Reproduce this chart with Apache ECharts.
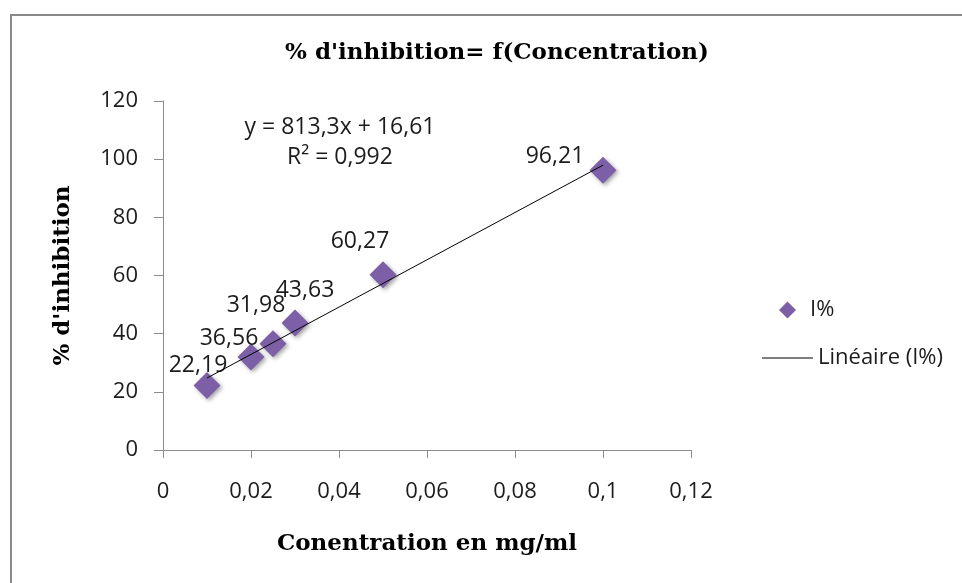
<!DOCTYPE html>
<html><head><meta charset="utf-8">
<script src="https://cdn.jsdelivr.net/npm/echarts@6/dist/echarts.min.js"></script>
<style>html,body{margin:0;padding:0;background:#fff}#c{width:962px;height:583px}</style>
</head><body><div id="c"></div>
<script>
// ---- data ----
const concentrations = [0.01, 0.02, 0.025, 0.03, 0.05, 0.1];
const inhibition = [22.19, 31.98, 36.56, 43.63, 60.27, 96.21];
const xTicks = [0, 0.02, 0.04, 0.06, 0.08, 0.1, 0.12];
const yTicks = [0, 20, 40, 60, 80, 100, 120];
const trendSlope = 813.3;      // as printed on the chart
const trendIntercept = 16.61;  // as printed on the chart
const trendR2 = 0.992;
const titleText = "% d'inhibition= f(Concentration)";
const xName = "Conentration en mg/ml";
const yName = "% d'inhibition";
const seriesName = "I%";
const trendName = "Linéaire (I%)";

// ---- trendline (from the printed equation) over the data range ----
const xMin = Math.min(...concentrations), xMax = Math.max(...concentrations);
const trend = [xMin, xMax].map(x => [x, trendIntercept + trendSlope * x]);
const fr = v => String(v).replace('.', ',');
const eqText = 'y = ' + fr(trendSlope) + 'x + ' + fr(trendIntercept);
const r2Text = 'R² = ' + fr(trendR2);

// ---- style ----
const sans = "'Open Sans', 'Noto Sans', sans-serif";
const serif = "'DejaVu Serif', serif";
const purple = '#7c5fa6';
const axisGrey = '#8c8c8c';
const textCol = '#1c1c1c';
const labelOffsets = [[-9,-20],[5,-52],[-44,-5],[10,-33],[-23,-33],[-48,-14]];

const chart = echarts.init(document.getElementById('c'), null, {renderer:'canvas'});
chart.setOption({
  animation:false,
  backgroundColor:'#fff',
  title:{text:titleText,left:492,textAlign:'center',top:37,
    textStyle:{fontFamily:serif,fontWeight:'bold',fontSize:23,color:'#000'}},
  grid:{left:163,top:101,width:528,height:349},
  legend:[
    {orient:'vertical',left:774,top:294,itemWidth:17,itemHeight:17,
      textStyle:{fontFamily:sans,fontSize:22,color:textCol,padding:[0,0,0,9]},
      data:[{name:seriesName,icon:'diamond'}]},
    {orient:'vertical',left:757,top:342,itemWidth:51,itemHeight:1.2,
      itemStyle:{color:'#000'},
      textStyle:{fontFamily:sans,fontSize:22,color:textCol},
      data:[{name:trendName,icon:'rect'}]}
  ],
  xAxis:{type:'value',min:xTicks[0],max:xTicks[xTicks.length-1],interval:xTicks[1]-xTicks[0],
    splitLine:{show:false},
    axisLine:{show:true,lineStyle:{color:axisGrey,width:1}},
    axisTick:{show:true,length:8,lineStyle:{color:axisGrey}},
    axisLabel:{margin:31,fontFamily:sans,fontSize:22,color:textCol,
      formatter:v=>fr(+v.toFixed(2))},
    name:xName,nameLocation:'middle',nameGap:83,
    nameTextStyle:{fontFamily:serif,fontWeight:'bold',fontSize:23,color:'#000'}},
  yAxis:{type:'value',min:yTicks[0],max:yTicks[yTicks.length-1],interval:yTicks[1]-yTicks[0],
    splitLine:{show:false},
    axisLine:{show:true,lineStyle:{color:axisGrey,width:1}},
    axisTick:{show:true,length:9,lineStyle:{color:axisGrey}},
    axisLabel:{margin:25,fontFamily:sans,fontSize:22,color:textCol},
    name:yName,nameLocation:'middle',nameGap:88,
    nameTextStyle:{fontFamily:serif,fontWeight:'bold',fontSize:23,color:'#000'}},
  graphic:[
    {type:'rect',shape:{x:11,y:15,width:1200,height:1200},
      style:{fill:'none',stroke:'#8a8a8a',lineWidth:2},silent:true,z:-1},
    {type:'text',x:340,y:116,style:{text:eqText,fontFamily:sans,fontSize:23,fill:textCol,align:'center'}},
    {type:'text',x:340,y:146,style:{text:r2Text,fontFamily:sans,fontSize:23,fill:textCol,align:'center'}}
  ],
  series:[
    {name:seriesName,type:'scatter',symbol:'diamond',symbolSize:27,z:2,
      itemStyle:{color:purple,opacity:1,shadowBlur:4,shadowColor:'rgba(0,0,0,0.35)',shadowOffsetX:2,shadowOffsetY:2},
      label:{show:true,position:'inside',fontFamily:sans,fontSize:23,color:textCol,
        formatter:p=>fr(p.value[1])},
      data:concentrations.map((x,i)=>({value:[x,inhibition[i]],label:{offset:labelOffsets[i]}}))},
    {name:trendName,type:'line',symbol:'none',z:3,
      lineStyle:{color:'#000',width:1},itemStyle:{color:'#000'},
      data:trend}
  ]
});
</script></body></html>
